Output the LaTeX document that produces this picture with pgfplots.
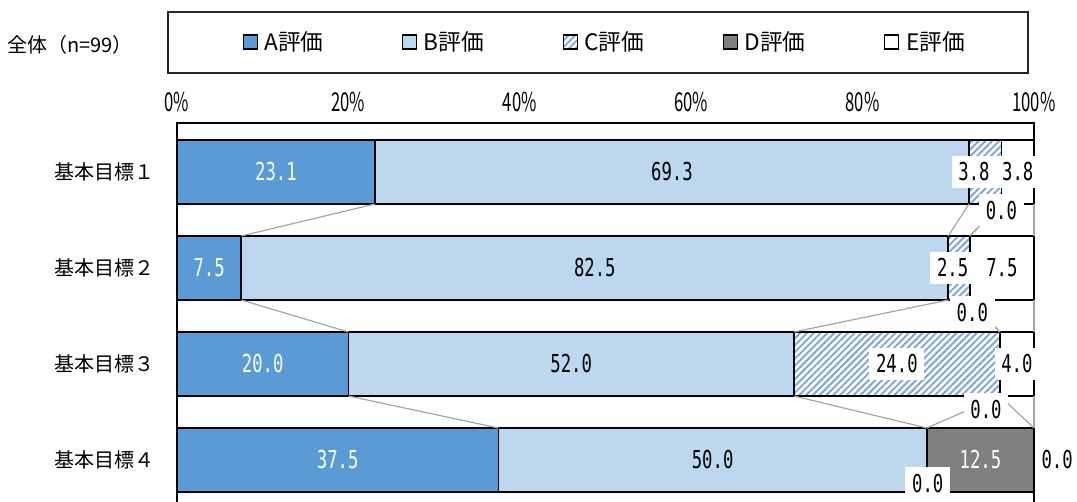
\documentclass[border=0pt]{standalone}
\usepackage{fontspec}
\usepackage{pgfplots}
\pgfplotsset{compat=1.18}
\usepackage{pgfplotstable}
\usetikzlibrary{patterns.meta}
\setmainfont{Noto Sans CJK JP}
\newfontfamily\labfont[FakeStretch=0.7]{DejaVu Sans Mono}
\newfontfamily\tickfont[FakeStretch=0.64]{Noto Sans CJK JP}
\definecolor{cA}{HTML}{5B9BD5}
\definecolor{cB}{HTML}{BDD7EE}
\definecolor{cC}{HTML}{7BA3DC}
\definecolor{cD}{HTML}{808080}
\definecolor{sl}{HTML}{A5A5A5}

\pgfplotstableread{
y A B C D E
0 23.1 69.3 3.8 0.0 3.8
1 7.5 82.5 2.5 0.0 7.5
2 20.0 52.0 24.0 0.0 4.0
3 37.5 50.0 0.0 12.5 0.0
}\bars

\pgfplotstableread{
x y lab
11.55 0 23.1
3.75 1 7.5
10 2 20.0
18.75 3 37.5
93.75 3 12.5
}\labW

\pgfplotstableread{
x y lab
57.75 0 69.3
48.75 1 82.5
46 2 52.0
62.5 3 50.0
102.7 3 0.0
}\labK

\pgfplotstableread{
x y lab
93.0 0 3.8
98.1 0 3.8
96.2 0.40 0.0
90.5 1 2.5
96.25 1 7.5
92.8 1.46 0.0
84 2 24.0
98 2 4.0
94.4 2.47 0.0
87.6 3.24 0.0
}\labB

\pgfplotsset{
  labstyle/.style={draw=none, mark=none, nodes near coords={\pgfplotspointmeta},
    point meta=explicit symbolic, nodes near coords align=center},
}
\newcommand{\labsize}{\labfont\fontsize{18.5}{18.5}\selectfont}

\begin{document}
\begin{tikzpicture}
\begin{axis}[
  at={(132.75pt,-92.25pt)}, anchor=north west,
  scale only axis, width=642.75pt, height=288.75pt,
  xbar stacked, bar width=0.667,
  xmin=0, xmax=100, ymin=-0.51, ymax=3.5, y dir=reverse,
  xtick={0,20,40,60,80,100},
  xticklabels={0\%,20\%,40\%,60\%,80\%,100\%},
  xticklabel pos=upper,
  xticklabel shift=4.5pt,
  ytick={0,1,2,3},
  yticklabels={基本目標１,基本目標２,基本目標３,基本目標４},
  yticklabel shift=13pt,
  major tick length=0pt,
  tick style={draw=none},
  x tick label style={font=\tickfont\fontsize{19.5}{19.5}\selectfont},
  y tick label style={font=\fontsize{15}{15}\selectfont},
  axis line style={black, line width=1.3pt},
  legend columns=5,
  legend style={at={(0.4994,1.2104)}, anchor=center, draw=none, fill=none,
    font=\fontsize{17}{17}\selectfont,
    /tikz/every odd column/.append style={column sep=3pt},
    /tikz/every even column/.append style={column sep=57pt}},
  legend image code/.code={\draw[#1, line width=0.8pt] (0pt,-5.25pt) rectangle (10.5pt,5.25pt);},
  clip=false,
]
\addplot[fill=cA, draw=black, line width=1.3pt] table[x=A, y=y] {\bars};
\addlegendentry{A評価}
\addplot[fill=cB, draw=black, line width=1.3pt] table[x=B, y=y] {\bars};
\addlegendentry{B評価}
\addplot[fill=white, draw=black, line width=1.3pt,
  postaction={pattern={Lines[angle=45,distance=3.6pt,line width=1.4pt]}, pattern color=cC}] table[x=C, y=y] {\bars};
\addlegendentry{C評価}
\addplot[fill=cD, draw=black, line width=1.3pt] table[x=D, y=y] {\bars};
\addlegendentry{D評価}
\addplot[fill=white, draw=black, line width=1.3pt] table[x=E, y=y] {\bars};
\addlegendentry{E評価}
\end{axis}

\begin{axis}[
  at={(132.75pt,-92.25pt)}, anchor=north west,
  scale only axis, width=642.75pt, height=288.75pt,
  xmin=0, xmax=100, ymin=-0.51, ymax=3.5, y dir=reverse,
  axis lines=none, clip=false, unbounded coords=jump,
]
\addplot[sl, line width=0.9pt, mark=none] coordinates {(23.1,0.3333) (7.5,0.6667) (nan,nan) (7.5,1.3333) (20,1.6667) (nan,nan) (20,2.3333) (37.5,2.6667)};
\addplot[sl, line width=0.9pt, mark=none] coordinates {(92.4,0.3333) (90,0.6667) (nan,nan) (90,1.3333) (72,1.6667) (nan,nan) (72,2.3333) (87.5,2.6667)};
\addplot[sl, line width=0.9pt, mark=none] coordinates {(96.2,0.3333) (92.5,0.6667) (nan,nan) (92.5,1.3333) (96,1.6667) (nan,nan) (96,2.3333) (87.5,2.6667)};
\addplot[sl, line width=0.9pt, mark=none] coordinates {(96.2,0.3333) (92.5,0.6667) (nan,nan) (92.5,1.3333) (96,1.6667) (nan,nan) (96,2.3333) (100,2.6667)};
\addplot[sl, line width=0.9pt, mark=none] coordinates {(100,0.3333) (100,0.6667) (nan,nan) (100,1.3333) (100,1.6667) (nan,nan) (100,2.3333) (100,2.6667)};

\addplot[labstyle, every node near coord/.append style={font=\labsize, text=white, anchor=center}] table[x=x, y=y, meta=lab] {\labW};
\addplot[labstyle, every node near coord/.append style={font=\labsize, text=black, anchor=center}] table[x=x, y=y, meta=lab] {\labK};
\addplot[labstyle, every node near coord/.append style={font=\labsize, text=black, fill=white, inner xsep=5pt, inner ysep=5pt, anchor=center}] table[x=x, y=y, meta=lab] {\labB};
\end{axis}

\node[font=\fontsize{15}{15}\selectfont] at (52.5pt,-33.75pt) {全体（n=99）};
\draw[black!85, line width=0.8pt] (126pt,-9pt) rectangle (771pt,-54.75pt);

\pgfresetboundingbox
\useasboundingbox (0pt,0pt) rectangle (807.75pt,-376.5pt);
\end{tikzpicture}
\end{document}
